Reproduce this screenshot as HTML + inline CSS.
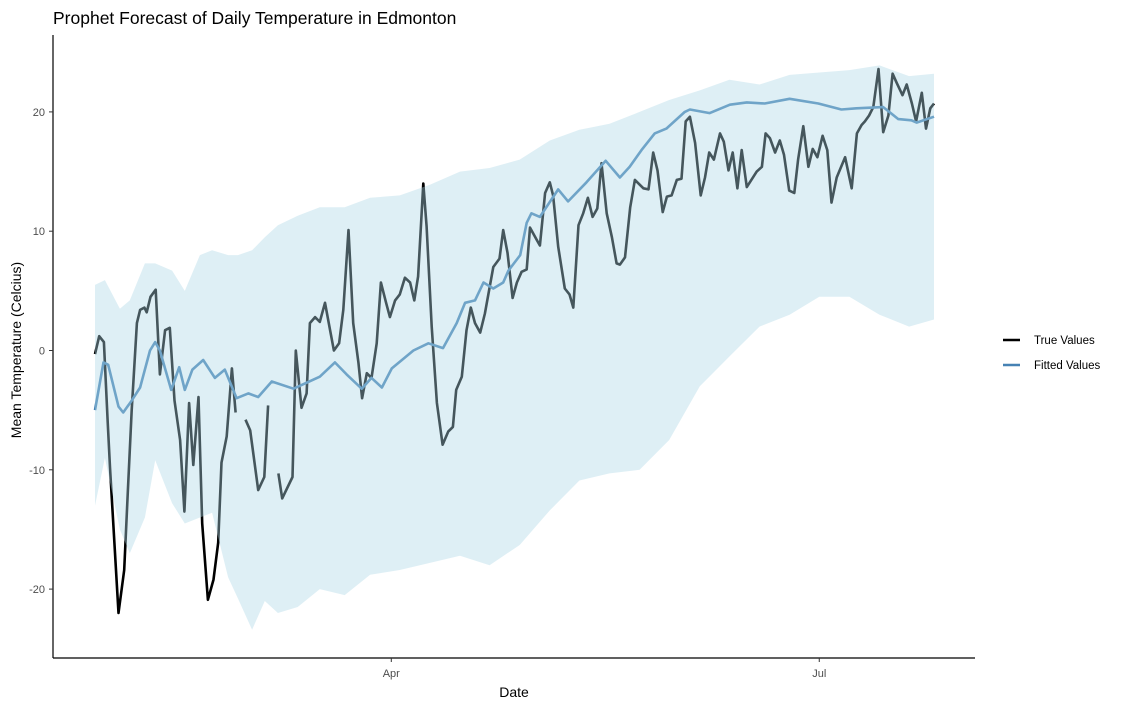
<!DOCTYPE html>
<html><head><meta charset="utf-8"><style>
body{margin:0;background:#fff;font-family:"Liberation Sans",sans-serif}
svg text{font-family:"Liberation Sans",sans-serif}
</style></head><body>
<svg id="chart" width="1127" height="709">
<text x="53" y="24" font-size="17.5" fill="#000">Prophet Forecast of Daily Temperature in Edmonton</text>
<g id="plot"></g>
<line x1="53" y1="35" x2="53" y2="658" stroke="#000" stroke-width="1.2"/>
<line x1="53" y1="658" x2="975" y2="658" stroke="#000" stroke-width="1.2"/>
<g id="axes"></g>
<text x="514" y="697" font-size="14" text-anchor="middle">Date</text>
<text transform="translate(21,350) rotate(-90)" font-size="14" text-anchor="middle">Mean Temperature (Celcius)</text>
<g>
<g>
<line x1="1003" y1="340" x2="1020" y2="340" stroke="#000" stroke-width="2.5"/>
<text x="1034" y="344" font-size="11.5">True Values</text></g>
<g>
<line x1="1003" y1="365" x2="1020" y2="365" stroke="#4682b4" stroke-width="2.5"/>
<text x="1034" y="369" font-size="11.5">Fitted Values</text></g>
</g>
</svg>
<script>
const trueDays=[0,0.9,1.9,2.7,3.2,5.0,6.2,7.0,7.8,8.9,9.6,10.5,11.0,11.8,12.9,13.8,14.9,15.9,16.9,18.1,19.0,20.0,20.9,22.0,22.8,24.0,25.2,26.2,26.9,28.0,29.1,29.9,31,32.0,33.0,34.7,36.0,36.8,38,39.0,39.8,42.0,42.7,43.9,45.0,45.7,46.8,47.8,48.9,50.0,50.8,51.9,52.8,53.9,54.9,56.0,56.8,57.8,58.8,59.9,60.8,61.9,62.7,63.8,64.8,65.9,67.0,67.9,68.7,69.8,70.5,71.6,72.7,73.9,75.1,76.1,76.8,78.0,79.0,79.9,80.8,81.9,82.9,84.7,86.0,86.8,87.7,88.8,89.7,90.7,91.8,92.5,93.9,94.6,95.7,96.7,97.4,98.5,99.9,100.9,101.7,102.8,103.8,104.8,105.8,106.8,107.7,108.8,109.9,110.9,111.6,112.7,113.8,114.8,116.6,117.7,118.7,119.6,120.7,121.6,122.6,123.7,124.7,125.6,126.5,127.6,128.8,129.7,130.6,131.6,132.9,133.7,134.7,135.6,136.6,137.5,138.6,140.7,141.8,142.6,143.5,144.6,145.6,146.5,147.6,148.7,149.5,150.6,151.7,152.6,153.6,154.7,155.7,156.6,157.7,159.5,160.9,162.0,163.0,163.7,164.6,165.5,166.6,167.6,168.7,169.6,170.5,171.7,172.6,173.7,174.6,175.8,176.7,177.6,178.4];
const trueVals=[-0.3,1.2,0.7,-6,-9.8,-22,-18.4,-11.7,-5,2.3,3.4,3.6,3.2,4.5,5.1,-2,1.7,1.9,-4.2,-7.5,-13.5,-4.4,-9.6,-3.9,-14.5,-20.9,-19.2,-16.1,-9.4,-7.2,-1.5,-5.2,null,-5.8,-6.7,-11.7,-10.6,-4.6,null,-10.3,-12.4,-10.6,0,-4.8,-3.6,2.3,2.8,2.4,4,1.7,0,0.6,3.4,10.1,2.3,-1,-4,-1.9,-2.3,0.6,5.7,4,2.8,4.2,4.7,6.1,5.7,4.2,6.2,14,10.4,2,-4.4,-7.9,-6.8,-6.4,-3.3,-2.2,1.7,3.6,2.3,1.5,3.1,7,7.7,10.1,8.2,4.4,5.7,6.6,6.8,10.3,9.3,8.8,13.2,14.1,13,8.7,5.2,4.7,3.6,10.5,11.5,12.8,11.2,11.9,15.7,11.5,9.5,7.3,7.2,7.8,12,14.3,13.6,13.5,16.6,15.1,11.6,12.9,13,14.3,14.4,19.2,19.6,17.4,13,14.5,16.6,16,18.2,17.5,15.1,16.6,13.6,16.8,13.7,15,15.4,18.2,17.8,16.6,17.6,16.4,13.4,13.2,16,18.8,15.4,16.9,16.2,18,16.8,12.4,14.5,16.2,13.6,18.2,18.9,19.2,19.7,20.4,23.6,18.3,19.7,23.2,22.4,21.4,22.3,20.7,19.2,21.6,18.6,20.3,20.7,18.6,20.8];
const fitDays=[0,1.8,2.8,5.0,6.0,7.8,9.6,11.7,12.8,13.8,16.2,17.9,19.1,20.7,23.0,25.5,27.6,30.1,32.6,34.7,37.6,42.2,47.8,51.0,53.5,56.7,58.8,61.0,63.1,67.7,70.9,74.0,76.9,78.7,80.8,82.6,84.7,86.8,87.9,90.4,91.8,92.8,94.6,98.5,100.6,104.5,108.6,111.6,113.7,116.2,119.0,121.5,125.4,126.5,130.7,135.0,138.6,142.4,147.7,153.8,158.7,161.9,167.6,170.8,173.6,174.7,178.4];
const fitVals=[-5,-1,-1.2,-4.7,-5.2,-4.2,-3.1,0,0.7,0,-3.3,-1.4,-3.3,-1.6,-0.8,-2.3,-1.6,-4,-3.6,-3.9,-2.6,-3.2,-2.2,-1,-2,-3.2,-2.3,-3.1,-1.5,0,0.6,0.2,2.3,4,4.2,5.7,5.2,5.7,6.7,8,10.7,11.5,11.2,13.5,12.5,14.1,15.9,14.5,15.4,16.8,18.2,18.6,20,20.2,19.9,20.6,20.8,20.7,21.1,20.7,20.2,20.3,20.4,19.4,19.3,19.1,19.6];
const bandDays=[0,2.1,5.3,7.4,10.6,12.8,16.4,19.1,22.3,24.9,28.3,30.4,33.4,36.1,38.9,43.1,47.8,53.1,58.5,64.8,71.2,77.6,83.9,90.3,96.7,103.0,109.4,115.8,122.1,128.6,134.9,141.3,147.7,154.0,160.4,166.8,173.1,178.4];
const bandUpper=[5.5,5.9,3.5,4.2,7.3,7.3,6.7,5,8,8.4,8,8,8.4,9.5,10.5,11.3,12,12,12.8,13,13.9,15,15.3,16,17.6,18.5,19,20,21,21.8,22.7,22.3,23.1,23.3,23.5,23.9,23,23.2];
const bandLower=[-13,-9,-15,-17,-14,-9.2,-12.8,-14.5,-14,-13.6,-19,-20.8,-23.4,-21,-22,-21.5,-20,-20.5,-18.8,-18.4,-17.8,-17.2,-18,-16.3,-13.4,-10.9,-10.3,-10,-7.5,-3,-0.5,2,3,4.5,4.5,3,2,2.6];
const yTicks=[-20,-10,0,10,20];
const xTickDays=[63,154];
const xTickLabels=["Apr","Jul"];

const X=d=>95+d*4.703;
const Y=v=>350.5-v*11.93;
const NS="http://www.w3.org/2000/svg";
const plot=document.getElementById('plot'), axes=document.getElementById('axes');
function mk(tag,attrs,parent){const e=document.createElementNS(NS,tag);for(const k in attrs)e.setAttribute(k,attrs[k]);parent.appendChild(e);return e;}

// true line (with gaps)
let d="",pen=false;
trueDays.forEach((t,i)=>{const v=trueVals[i];if(v===null){pen=false;return;}d+=(pen?"L":"M")+X(t).toFixed(1)+","+Y(v).toFixed(1);pen=true;});
const tl=mk('path',{d:d,fill:"none",stroke:"#000","stroke-width":2.6,"stroke-linejoin":"round"},plot);



// fitted line
const fd=fitDays.map((t,i)=>(i?"L":"M")+X(t).toFixed(1)+","+Y(fitVals[i]).toFixed(1)).join("");
const fl=mk('path',{d:fd,fill:"none",stroke:"#4682b4","stroke-width":2.6,"stroke-linejoin":"round"},plot);



// uncertainty band on top
let bd=bandDays.map((t,i)=>(i?"L":"M")+X(t).toFixed(1)+","+Y(bandUpper[i]).toFixed(1)).join("");
for(let i=bandDays.length-1;i>=0;i--)bd+="L"+X(bandDays[i]).toFixed(1)+","+Y(bandLower[i]).toFixed(1);
bd+="Z";
const band=mk('path',{d:bd,fill:"rgba(173,216,230,0.4)",stroke:"none"},plot);



yTicks.forEach(v=>{
  const t=mk('line',{x1:49,x2:53,y1:Y(v),y2:Y(v),stroke:"#333","stroke-width":1},axes);
  
  
  const l=mk('text',{x:45,y:Y(v)+4,"font-size":11,fill:"#4d4d4d","text-anchor":"end"},axes);
  l.textContent=v;
  
  
});
xTickDays.forEach((t,i)=>{
  const k=mk('line',{x1:X(t),x2:X(t),y1:658,y2:662,stroke:"#333","stroke-width":1},axes);
  
  
  const l=mk('text',{x:X(t),y:677,"font-size":11,fill:"#4d4d4d","text-anchor":"middle"},axes);
  l.textContent=xTickLabels[i];
  
  
});
</script>
</body></html>
